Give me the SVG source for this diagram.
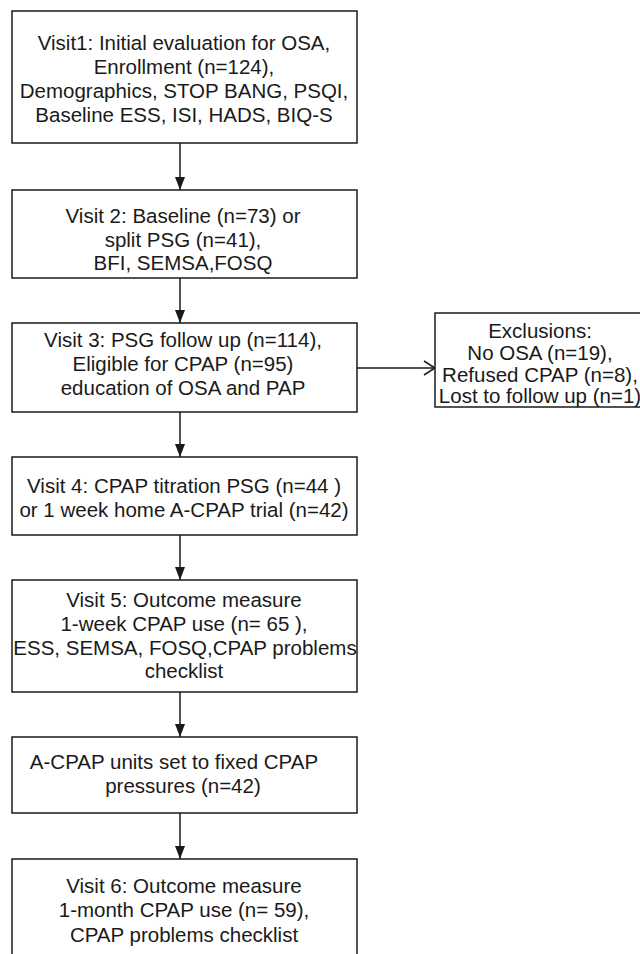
<svg xmlns="http://www.w3.org/2000/svg" width="640" height="954" viewBox="0 0 640 954">
  <defs>
    <!-- solid arrowhead, drawn along +x so orient="auto" turns it with the line -->
    <marker id="head" markerWidth="13" markerHeight="10" refX="13" refY="5" orient="auto" markerUnits="userSpaceOnUse" viewBox="0 0 13 10">
      <path d="M0,0 L13,5 L0,10 Z" fill="#1a1a1a"/>
    </marker>
    <!-- open V arrowhead -->
    <marker id="open" markerWidth="13" markerHeight="16" refX="12" refY="8" orient="auto" markerUnits="userSpaceOnUse" viewBox="0 0 13 16">
      <path d="M1,1 L12,8 L1,15" fill="none" stroke="#1a1a1a" stroke-width="1.5"/>
    </marker>
  </defs>
  <style>
    .box { fill: #ffffff; stroke: #1a1a1a; stroke-width: 1.5; }
    .lbl { font-family: "Liberation Sans", Arial, sans-serif; font-size: 20.5px; fill: #1a1a1a; text-anchor: middle; }
    .edge { stroke: #1a1a1a; stroke-width: 1.5; fill: none; }
  </style>
  <rect width="640" height="954" fill="#ffffff"/>

  <g id="connectors">
    <line class="edge" x1="180" y1="143" x2="180" y2="190" marker-end="url(#head)"/>
    <line class="edge" x1="180" y1="278" x2="180" y2="323" marker-end="url(#head)"/>
    <line class="edge" x1="180" y1="412" x2="180" y2="457" marker-end="url(#head)"/>
    <line class="edge" x1="180" y1="535" x2="180" y2="580" marker-end="url(#head)"/>
    <line class="edge" x1="180" y1="692" x2="180" y2="737" marker-end="url(#head)"/>
    <line class="edge" x1="180" y1="813" x2="180" y2="859" marker-end="url(#head)"/>
    <line class="edge" x1="357" y1="368" x2="435" y2="368" marker-end="url(#open)"/>
  </g>

  <g id="visit1">
    <rect class="box" x="12" y="11" width="345" height="132"/>
    <text class="lbl" x="184" y="50">Visit1: Initial evaluation for OSA,</text>
    <text class="lbl" x="184" y="74">Enrollment (n=124),</text>
    <text class="lbl" x="184" y="98">Demographics, STOP BANG, PSQI,</text>
    <text class="lbl" x="184" y="122">Baseline ESS, ISI, HADS, BIQ-S</text>
  </g>

  <g id="visit2">
    <rect class="box" x="12" y="190" width="345" height="88"/>
    <text class="lbl" x="183" y="223">Visit 2: Baseline (n=73) or</text>
    <text class="lbl" x="183" y="246.5">split PSG (n=41),</text>
    <text class="lbl" x="183" y="270">BFI, SEMSA,FOSQ</text>
  </g>

  <g id="visit3">
    <rect class="box" x="12" y="323" width="345" height="89"/>
    <text class="lbl" x="183" y="347">Visit 3: PSG follow up (n=114),</text>
    <text class="lbl" x="183" y="371">Eligible for CPAP (n=95)</text>
    <text class="lbl" x="183" y="395">education of OSA and PAP</text>
  </g>

  <g id="exclusions">
    <rect class="box" x="435" y="313" width="215" height="94"/>
    <text class="lbl" x="540" y="338">Exclusions:</text>
    <text class="lbl" x="540" y="360">No OSA (n=19),</text>
    <text class="lbl" x="540" y="382">Refused CPAP (n=8),</text>
    <text class="lbl" x="540" y="403">Lost to follow up (n=1)</text>
  </g>

  <g id="visit4">
    <rect class="box" x="12" y="457" width="345" height="78"/>
    <text class="lbl" x="184" y="493">Visit 4: CPAP titration PSG (n=44 )</text>
    <text class="lbl" x="184" y="517">or 1 week home A-CPAP trial (n=42)</text>
  </g>

  <g id="visit5">
    <rect class="box" x="12" y="580" width="345" height="112"/>
    <text class="lbl" x="184" y="607">Visit 5: Outcome measure</text>
    <text class="lbl" x="184" y="631">1-week CPAP use (n= 65 ),</text>
    <text class="lbl" x="185" y="655">ESS, SEMSA, FOSQ,CPAP problems</text>
    <text class="lbl" x="184" y="678">checklist</text>
  </g>

  <g id="fixed-pressure">
    <rect class="box" x="12" y="737" width="345" height="76"/>
    <text class="lbl" x="174" y="769">A-CPAP units set to fixed CPAP</text>
    <text class="lbl" x="183" y="793">pressures (n=42)</text>
  </g>

  <g id="visit6">
    <path class="box" d="M12,960 L12,859 L357,859 L357,960"/>
    <text class="lbl" x="184" y="893">Visit 6: Outcome measure</text>
    <text class="lbl" x="184" y="917">1-month CPAP use (n= 59),</text>
    <text class="lbl" x="184" y="942">CPAP problems checklist</text>
  </g>
</svg>
